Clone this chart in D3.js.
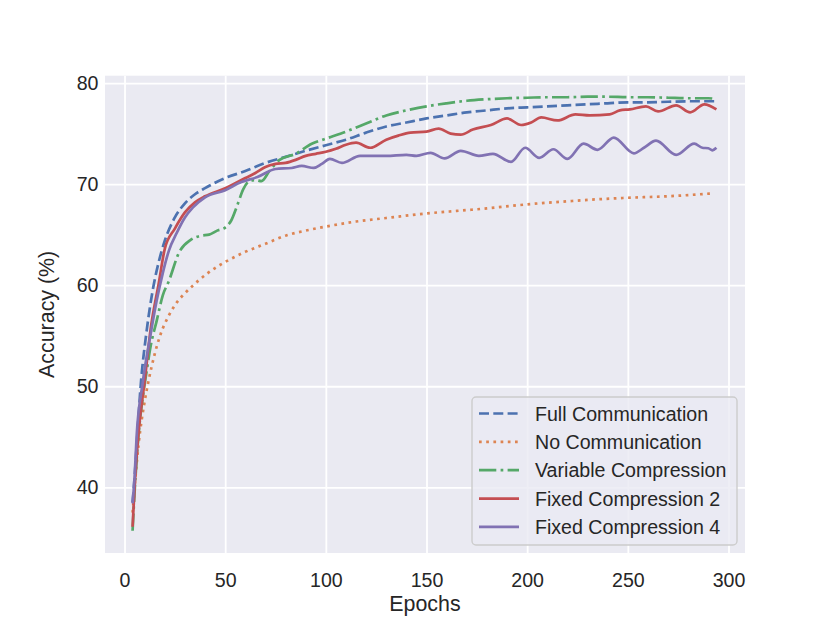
<!DOCTYPE html>
<html>
<head>
<meta charset="utf-8">
<script src="https://cdn.jsdelivr.net/npm/d3@7"></script>
<style>
  html, body { margin: 0; padding: 0; background: #fff; }
  svg text { font-family: "Liberation Sans", Arial, sans-serif; fill: #262626; }
</style>
</head>
<body>
<svg id="chart" width="830" height="623"></svg>
<script>
"use strict";

// ── Data ────────────────────────────────────────────────────────────────────
const fullEpochs = [4, 5, 6, 8, 11, 14, 17, 20, 25, 30, 35, 40, 50, 60, 70, 80, 90, 100, 110, 120, 130,
  140, 150, 160, 170, 180, 190, 200, 210, 220, 230, 240, 250, 260, 270, 280, 294];
const fullAcc = [38.5, 41.0, 44.0, 50.0, 55.5, 59.5, 62.3, 64.4, 66.7, 68.1, 69.0, 69.6, 70.6, 71.3, 72.1, 72.7, 73.3, 73.85, 74.4, 75.1, 75.7,
  76.1, 76.5, 76.8, 77.1, 77.3, 77.5, 77.6, 77.7, 77.8, 77.9, 78.0, 78.1, 78.1, 78.15, 78.2, 78.2];

const noEpochs = [4, 7, 10, 12, 15, 18, 22, 26, 30, 37, 45, 50, 60, 70, 80, 90, 100, 115, 130, 150,
  165, 180, 200, 220, 235, 250, 270, 293];
const noAcc = [37.5, 44.3, 48.5, 50.6, 53.2, 55.2, 57.0, 58.3, 59.2, 60.5, 61.7, 62.3, 63.3, 64.1, 64.9, 65.4, 65.8, 66.3, 66.65, 67.1,
  67.35, 67.6, 68.0, 68.3, 68.5, 68.65, 68.8, 69.1];

const varEpochs = [4, 5, 7, 9, 11, 13, 16, 19, 22, 27, 33, 38, 42, 46, 50, 53, 56, 59, 62, 65, 68,
  72, 77, 85, 93, 100, 110, 120, 130, 140, 150, 160, 170, 180, 190, 200, 210, 220, 230, 240, 250,
  260, 270, 280, 290, 294];
const varAcc = [35.7, 39.5, 45.3, 48.8, 51.5, 54.0, 56.5, 59.0, 60.4, 63.2, 64.5, 64.9, 65.0, 65.4, 65.7, 66.4, 67.9, 69.5, 70.3, 70.4, 70.3,
  71.3, 72.4, 73.0, 74.0, 74.5, 75.2, 76.0, 76.8, 77.3, 77.7, 78.0, 78.25, 78.4, 78.5, 78.55, 78.6, 78.6, 78.65, 78.65, 78.6,
  78.6, 78.55, 78.5, 78.5, 78.4];

const fc2Epochs = [4, 5, 7, 10, 13, 17, 20, 25, 30, 35, 40, 50, 55, 60, 65, 70, 75, 80, 85, 90,
  95, 100, 105, 110, 115, 122, 130, 136, 142, 150, 156, 162, 167, 173, 182, 190, 197, 202, 207, 215,
  224, 231, 241, 246, 251, 259, 265, 274, 281, 288, 294];
const fc2Acc = [36.1, 40.0, 45.5, 50.5, 55.7, 60.2, 63.6, 65.6, 67.2, 68.2, 68.8, 69.6, 70.1, 70.6, 71.1, 71.7, 72.0, 72.1, 72.4, 72.8,
  73.0, 73.2, 73.5, 73.9, 74.1, 73.6, 74.4, 74.8, 75.1, 75.2, 75.5, 75.0, 74.9, 75.4, 75.85, 76.5, 75.85, 76.1, 76.6, 76.3,
  76.9, 76.8, 76.9, 77.3, 77.4, 77.7, 77.2, 77.8, 77.1, 77.9, 77.4];

const fc4Epochs = [4, 5, 6, 9, 13, 16, 19, 22, 26, 30, 34, 40, 50, 58, 66, 75, 83, 88, 94, 98, 102,
  108, 117, 130, 140, 145, 152, 159, 167, 176, 183, 192, 199, 206, 213, 220, 228, 235, 243, 253, 258,
  264, 274, 283, 287, 290, 292, 294];
const fc4Acc = [38.4, 41.0, 45.0, 50.3, 55.2, 58.5, 61.2, 63.4, 65.2, 66.7, 67.7, 68.7, 69.4, 70.2, 70.7, 71.5, 71.6, 71.8, 71.6, 72.0, 72.5,
  72.1, 72.8, 72.8, 72.9, 72.8, 73.1, 72.55, 73.3, 72.8, 73.0, 72.2, 73.6, 72.6, 73.45, 72.5, 74.0, 73.4, 74.6, 73.05, 73.6,
  74.3, 72.9, 74.0, 73.6, 73.55, 73.35, 73.6];

const xTicks = [0, 50, 100, 150, 200, 250, 300];
const yTicks = [40, 50, 60, 70, 80];

const series = [
  { name: "Full Communication",   epochs: fullEpochs, acc: fullAcc, color: "#4C72B0", dash: "10,4.3" },
  { name: "No Communication",     epochs: noEpochs,   acc: noAcc,   color: "#DD8452", dash: "2.7,4.5" },
  { name: "Variable Compression", epochs: varEpochs,  acc: varAcc,  color: "#55A868", dash: "17.3,4.3,2.7,4.3" },
  { name: "Fixed Compression 2",  epochs: fc2Epochs,  acc: fc2Acc,  color: "#C44E52", dash: null },
  { name: "Fixed Compression 4",  epochs: fc4Epochs,  acc: fc4Acc,  color: "#8172B3", dash: null }
];

// ── Layout ──────────────────────────────────────────────────────────────────
const plot = { left: 105, right: 745, top: 75.7, bottom: 553 };
const W = plot.right - plot.left;
const H = plot.bottom - plot.top;

const svg = d3.select("#chart");
svg.append("rect").attr("width", 830).attr("height", 623).attr("fill", "#fff");

const g = svg.append("g").attr("transform", `translate(${plot.left},${plot.top})`);

const x = d3.scaleLinear().domain([-9.7, 308.2]).range([0, W]);
const y = d3.scaleLinear().domain([33.5, 80.73]).range([H, 0]);

g.append("rect").attr("width", W).attr("height", H).attr("fill", "#EAEAF2");

// Gridlines
g.append("g")
  .attr("transform", `translate(0,${H})`)
  .call(d3.axisBottom(x).tickValues(xTicks).tickSize(-H).tickFormat(""))
  .call(a => a.select(".domain").remove())
  .call(a => a.selectAll("line").attr("stroke", "#fff").attr("stroke-width", 1.8));

g.append("g")
  .call(d3.axisLeft(y).tickValues(yTicks).tickSize(-W).tickFormat(""))
  .call(a => a.select(".domain").remove())
  .call(a => a.selectAll("line").attr("stroke", "#fff").attr("stroke-width", 1.8));

// Tick labels
g.append("g")
  .attr("transform", `translate(0,${H})`)
  .call(d3.axisBottom(x).tickValues(xTicks).tickSize(0).tickPadding(0))
  .call(a => a.select(".domain").remove())
  .call(a => a.selectAll("text")
    .attr("y", 34).attr("dy", null)
    .attr("font-size", "19.6px").attr("fill", "#262626")
    .style("font-family", "'Liberation Sans', Arial, sans-serif"));

g.append("g")
  .call(d3.axisLeft(y).tickValues(yTicks).tickSize(0).tickPadding(6.5))
  .call(a => a.select(".domain").remove())
  .call(a => a.selectAll("text")
    .attr("font-size", "19.6px").attr("fill", "#262626")
    .style("font-family", "'Liberation Sans', Arial, sans-serif"));

// Axis labels
svg.append("text")
  .attr("x", plot.left + W / 2).attr("y", 611)
  .attr("text-anchor", "middle").attr("font-size", "21.4px")
  .text("Epochs");

svg.append("text")
  .attr("transform", `translate(54,${plot.top + H / 2}) rotate(-90)`)
  .attr("text-anchor", "middle").attr("font-size", "21.4px")
  .text("Accuracy (%)");

// Lines
const line = d3.line().curve(d3.curveMonotoneX);

g.append("clipPath").attr("id", "plotClip")
  .append("rect").attr("width", W).attr("height", H);

series.forEach(s => {
  const pts = s.epochs.map((e, i) => [x(e), y(s.acc[i])]);
  g.append("path")
    .attr("d", line(pts))
    .attr("fill", "none")
    .attr("stroke", s.color)
    .attr("stroke-width", 2.7)
    .attr("stroke-dasharray", s.dash)
    .attr("clip-path", "url(#plotClip)");
});

// Legend
const leg = svg.append("g").attr("transform", "translate(472,397)");
leg.append("rect")
  .attr("width", 265).attr("height", 148).attr("rx", 4)
  .attr("fill", "#EAEAF2").attr("fill-opacity", 0.8)
  .attr("stroke", "#cccccc").attr("stroke-width", 1.4);

series.forEach((s, i) => {
  const cy = 16.5 + i * 28.35;
  leg.append("line")
    .attr("x1", 7).attr("x2", 47).attr("y1", cy).attr("y2", cy)
    .attr("stroke", s.color).attr("stroke-width", 2.7)
    .attr("stroke-dasharray", s.dash);
  leg.append("text")
    .attr("x", 63).attr("y", cy).attr("dy", "0.36em")
    .attr("font-size", "19.6px")
    .text(s.name);
});
</script>
</body>
</html>
